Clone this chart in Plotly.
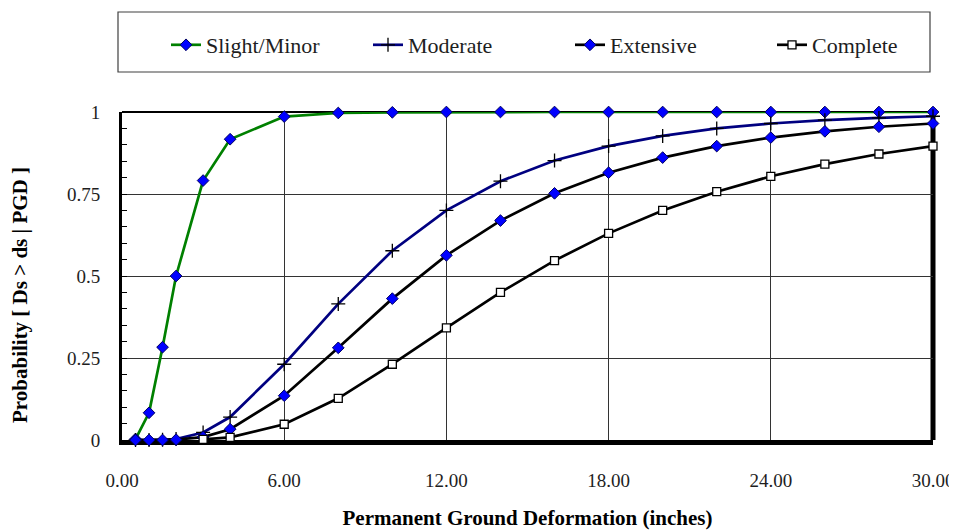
import plotly.graph_objects as go

# PGD values (inches) at which the curves are evaluated
pgd = [0.5, 1, 1.5, 2, 3, 4, 6, 8, 10, 12, 14, 16, 18, 20, 22, 24, 26, 28, 30]
complete_pgd = [3, 4, 6, 8, 10, 12, 14, 16, 18, 20, 22, 24, 26, 28, 30]

slight_minor = [0.003, 0.083, 0.283, 0.5, 0.791, 0.917, 0.986, 0.997, 0.999, 1, 1, 1, 1, 1, 1, 1, 1, 1, 1]
moderate = [0, 0, 0.001, 0.003, 0.023, 0.07, 0.231, 0.415, 0.577, 0.70, 0.789, 0.852, 0.896, 0.927, 0.950, 0.965, 0.975, 0.982, 0.987]
extensive = [0, 0, 0, 0.001, 0.009, 0.033, 0.135, 0.281, 0.431, 0.563, 0.669, 0.752, 0.815, 0.861, 0.896, 0.922, 0.941, 0.955, 0.965]
complete = [0.002, 0.008, 0.048, 0.127, 0.231, 0.342, 0.45, 0.547, 0.63, 0.70, 0.757, 0.804, 0.841, 0.872, 0.896]

x_ticks = [0, 6, 12, 18, 24, 30]
y_ticks = [0, 0.25, 0.5, 0.75, 1]
y_tick_text = ["0", "0.25", "0.5", "0.75", "1"]

FONT = "Liberation Serif, Times New Roman, serif"
TXT = "#1e1e1e"

# page body has an 8px margin, so the figure is sized/placed to compensate
W, H = 949, 522
PL, PT, PR, PB = 114, 104, 24, 90
PW, PH = W - PL - PR, H - PT - PB

fig = go.Figure()
fig.add_trace(go.Scatter(
    x=pgd, y=slight_minor, name="Slight/Minor", mode="lines+markers",
    line=dict(color="#008000", width=2.7),
    marker=dict(symbol="diamond", size=9, color="#0000ff", line=dict(color="#000060", width=1)),
    cliponaxis=False))
fig.add_trace(go.Scatter(
    x=pgd, y=moderate, name="Moderate", mode="lines+markers",
    line=dict(color="#000080", width=2.7),
    marker=dict(symbol="cross-thin-open", size=10, color="black", line=dict(color="black", width=1.3)),
    cliponaxis=False))
fig.add_trace(go.Scatter(
    x=pgd, y=extensive, name="Extensive", mode="lines+markers",
    line=dict(color="black", width=2.7),
    marker=dict(symbol="diamond", size=9, color="#0000ff", line=dict(color="#000060", width=1)),
    cliponaxis=False))
fig.add_trace(go.Scatter(
    x=complete_pgd, y=complete, name="Complete", mode="lines+markers",
    line=dict(color="black", width=2.7),
    marker=dict(symbol="square", size=8, color="white", line=dict(color="black", width=1.3)),
    cliponaxis=False))

fig.update_layout(
    width=W, height=H,
    margin=dict(l=PL, r=PR, t=PT, b=PB, autoexpand=False),
    paper_bgcolor="white", plot_bgcolor="white",
    font=dict(family=FONT, size=19, color=TXT),
    showlegend=True,
    legend=dict(
        orientation="h", xref="container", yref="container",
        x=158 / W, y=1 - 37 / H, xanchor="left", yanchor="middle",
        entrywidth=157, entrywidthmode="pixels",
        font=dict(family=FONT, size=22, color=TXT),
        bgcolor="rgba(0,0,0,0)", borderwidth=0, itemclick=False,
    ),
    shapes=[
        # legend frame
        dict(type="rect", xref="paper", yref="paper",
             x0=-4 / PW, x1=(PW - 3) / PW,
             y0=(PH + 40) / PH, y1=(PH + 100) / PH,
             line=dict(color="#404040", width=1.2), fillcolor="rgba(0,0,0,0)"),
        # top frame
        dict(type="line", xref="paper", yref="paper", x0=0, x1=1, y0=1, y1=1,
             line=dict(color="black", width=2), layer="below"),
        # right frame
        dict(type="line", xref="paper", yref="paper", x0=1, x1=1, y0=0, y1=1,
             line=dict(color="black", width=5), layer="below"),
    ],
    annotations=[
        dict(text="<b>Probability [ Ds &gt; ds | PGD ]</b>", textangle=-90,
             xref="paper", yref="paper", x=(12 - PL) / PW, y=(PT + PH - 287) / PH,
             xanchor="center", yanchor="middle", showarrow=False,
             font=dict(family=FONT, size=21, color="black")),
    ],
    xaxis=dict(
        range=[0, 30], tickvals=x_ticks, tickformat=".2f",
        showgrid=True, gridcolor="#333333", gridwidth=1,
        showline=True, linecolor="black", linewidth=5, layer="below traces",
        ticks="", ticklabelstandoff=19, zeroline=False,
        tickfont=dict(family=FONT, size=19, color=TXT),
        title=dict(text="<b>Permanent Ground Deformation (inches)</b>", standoff=22,
                   font=dict(family=FONT, size=21, color="black")),
    ),
    yaxis=dict(
        range=[0, 1], tickvals=y_ticks, ticktext=y_tick_text,
        showgrid=True, gridcolor="#333333", gridwidth=1,
        showline=True, linecolor="black", linewidth=3, layer="below traces",
        ticks="", ticklabelstandoff=15, zeroline=False,
        minor=dict(dtick=0.05, ticks="inside", ticklen=5, tickwidth=1, tickcolor="black", showgrid=False),
        tickfont=dict(family=FONT, size=19, color=TXT),
    ),
)

fig.write_html("out.html")
